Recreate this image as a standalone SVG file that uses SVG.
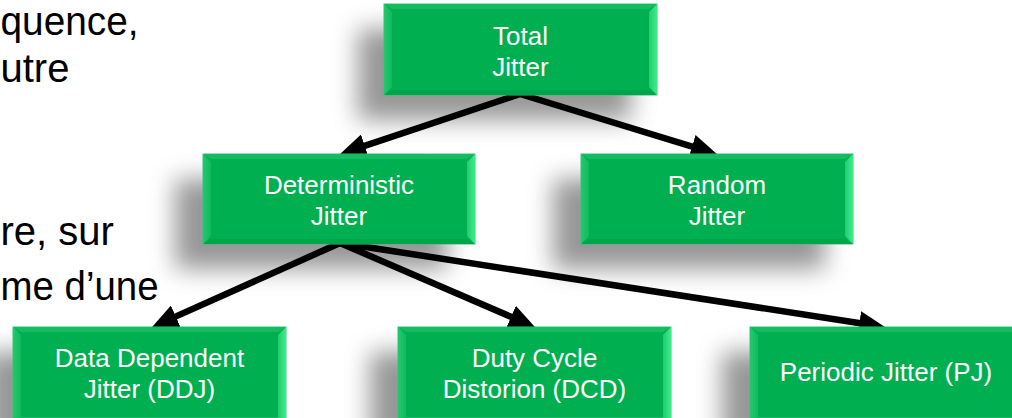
<svg xmlns="http://www.w3.org/2000/svg" width="1012" height="418" viewBox="0 0 1012 418">
  <defs>
    <style>
      .body { font-family: "Liberation Sans", Arial, sans-serif; font-size: 40px; fill: #000; }
      .label { font-family: "Liberation Sans", Arial, sans-serif; font-size: 26px; fill: #fff; text-anchor: middle; }
      .shadow { fill: #6a6a6a; opacity: 0.7; filter: url(#soft); }
      .face { fill: #00b050; stroke: #33c878; stroke-width: 1; }
      .bevel-l { fill: url(#bevelL); }
      .bevel-r { fill: url(#bevelR); }
      .bevel-t { fill: #14bb60; }
      .bevel-b { fill: #00a44a; }
      .link { fill: none; stroke: #000; stroke-width: 6.5; marker-end: url(#head); }
    </style>
    <filter id="soft" x="-30%" y="-50%" width="160%" height="200%">
      <feGaussianBlur stdDeviation="12"/>
    </filter>
    <linearGradient id="bevelL" x1="0" y1="0" x2="1" y2="0">
      <stop offset="0" stop-color="#22c86c"/>
      <stop offset="1" stop-color="#10bb5c"/>
    </linearGradient>
    <linearGradient id="bevelR" x1="0" y1="0" x2="1" y2="0">
      <stop offset="0" stop-color="#20cc6c"/>
      <stop offset="1" stop-color="#40ec8a"/>
    </linearGradient>
    <marker id="head" markerUnits="userSpaceOnUse" markerWidth="26" markerHeight="24" viewBox="0 0 26 24" refX="1" refY="12" orient="auto">
      <path d="M0,0 L26,12 L0,24 z" fill="#000"/>
    </marker>
  </defs>

  <!-- body text along the left margin -->
  <g id="body-text">
    <text class="body" x="0.5" y="35" font-size="38" textLength="138" lengthAdjust="spacingAndGlyphs">quence,</text>
    <text class="body" x="0.5" y="82">utre</text>
    <text class="body" x="0.5" y="245">re, sur</text>
    <text class="body" x="0.5" y="300" textLength="158" lengthAdjust="spacingAndGlyphs">me d’une</text>
  </g>

  <!-- drop shadows under the boxes -->
  <g id="shadows">
    <rect class="shadow" x="358" y="29" width="273" height="91"/>
    <rect class="shadow" x="175" y="179" width="272" height="90"/>
    <rect class="shadow" x="553" y="179" width="272" height="90"/>
    <rect class="shadow" x="-15" y="352" width="273" height="91"/>
    <rect class="shadow" x="370" y="352" width="273" height="91"/>
    <rect class="shadow" x="722" y="352" width="273" height="91"/>
  </g>

  <g id="connectors">
    <path class="link" d="M520,94 L363.8,146.2"/>
    <path class="link" d="M520,94 L693.0,146.8"/>
    <path class="link" d="M340,243 L174.9,316.9"/>
    <path class="link" d="M340,243 L512.0,317.2"/>
    <path class="link" d="M340,243 L860.3,323.2"/>
  </g>

  <g id="total-jitter">
    <rect class="face" x="384" y="4" width="273" height="91"/>
    <polygon class="bevel-t" points="384,4 657,4 649,9 392,9"/>
    <polygon class="bevel-b" points="384,95 657,95 649,90 392,90"/>
    <polygon class="bevel-l" points="384,4 392,12 392,87 384,95"/>
    <polygon class="bevel-r" points="657,4 649,12 649,87 657,95"/>
    <text class="label" x="520.5" y="45">Total</text>
    <text class="label" x="520.5" y="76">Jitter</text>
  </g>

  <g id="deterministic-jitter">
    <rect class="face" x="203" y="154" width="272" height="90"/>
    <polygon class="bevel-t" points="203,154 475,154 467,159 211,159"/>
    <polygon class="bevel-b" points="203,244 475,244 467,239 211,239"/>
    <polygon class="bevel-l" points="203,154 211,162 211,236 203,244"/>
    <polygon class="bevel-r" points="475,154 467,162 467,236 475,244"/>
    <text class="label" x="339" y="194">Deterministic</text>
    <text class="label" x="339" y="225">Jitter</text>
  </g>

  <g id="random-jitter">
    <rect class="face" x="581" y="154" width="272" height="90"/>
    <polygon class="bevel-t" points="581,154 853,154 845,159 589,159"/>
    <polygon class="bevel-b" points="581,244 853,244 845,239 589,239"/>
    <polygon class="bevel-l" points="581,154 589,162 589,236 581,244"/>
    <polygon class="bevel-r" points="853,154 845,162 845,236 853,244"/>
    <text class="label" x="717" y="194">Random</text>
    <text class="label" x="717" y="225">Jitter</text>
  </g>

  <g id="data-dependent-jitter">
    <rect class="face" x="13" y="327" width="273" height="91"/>
    <polygon class="bevel-t" points="13,327 286,327 278,332 21,332"/>
    <polygon class="bevel-l" points="13,327 21,335 21,418 13,418"/>
    <polygon class="bevel-r" points="286,327 278,335 278,418 286,418"/>
    <text class="label" x="149.5" y="367">Data Dependent</text>
    <text class="label" x="149.5" y="398">Jitter (DDJ)</text>
  </g>

  <g id="duty-cycle-distortion">
    <rect class="face" x="398" y="327" width="273" height="91"/>
    <polygon class="bevel-t" points="398,327 671,327 663,332 406,332"/>
    <polygon class="bevel-l" points="398,327 406,335 406,418 398,418"/>
    <polygon class="bevel-r" points="671,327 663,335 663,418 671,418"/>
    <text class="label" x="534.5" y="367">Duty Cycle</text>
    <text class="label" x="534.5" y="398">Distorion (DCD)</text>
  </g>

  <g id="periodic-jitter">
    <rect class="face" x="750" y="327" width="273" height="91"/>
    <polygon class="bevel-t" points="750,327 1023,327 1015,332 758,332"/>
    <polygon class="bevel-l" points="750,327 758,335 758,418 750,418"/>
    <text class="label" x="886" y="381">Periodic Jitter (PJ)</text>
  </g>
</svg>
